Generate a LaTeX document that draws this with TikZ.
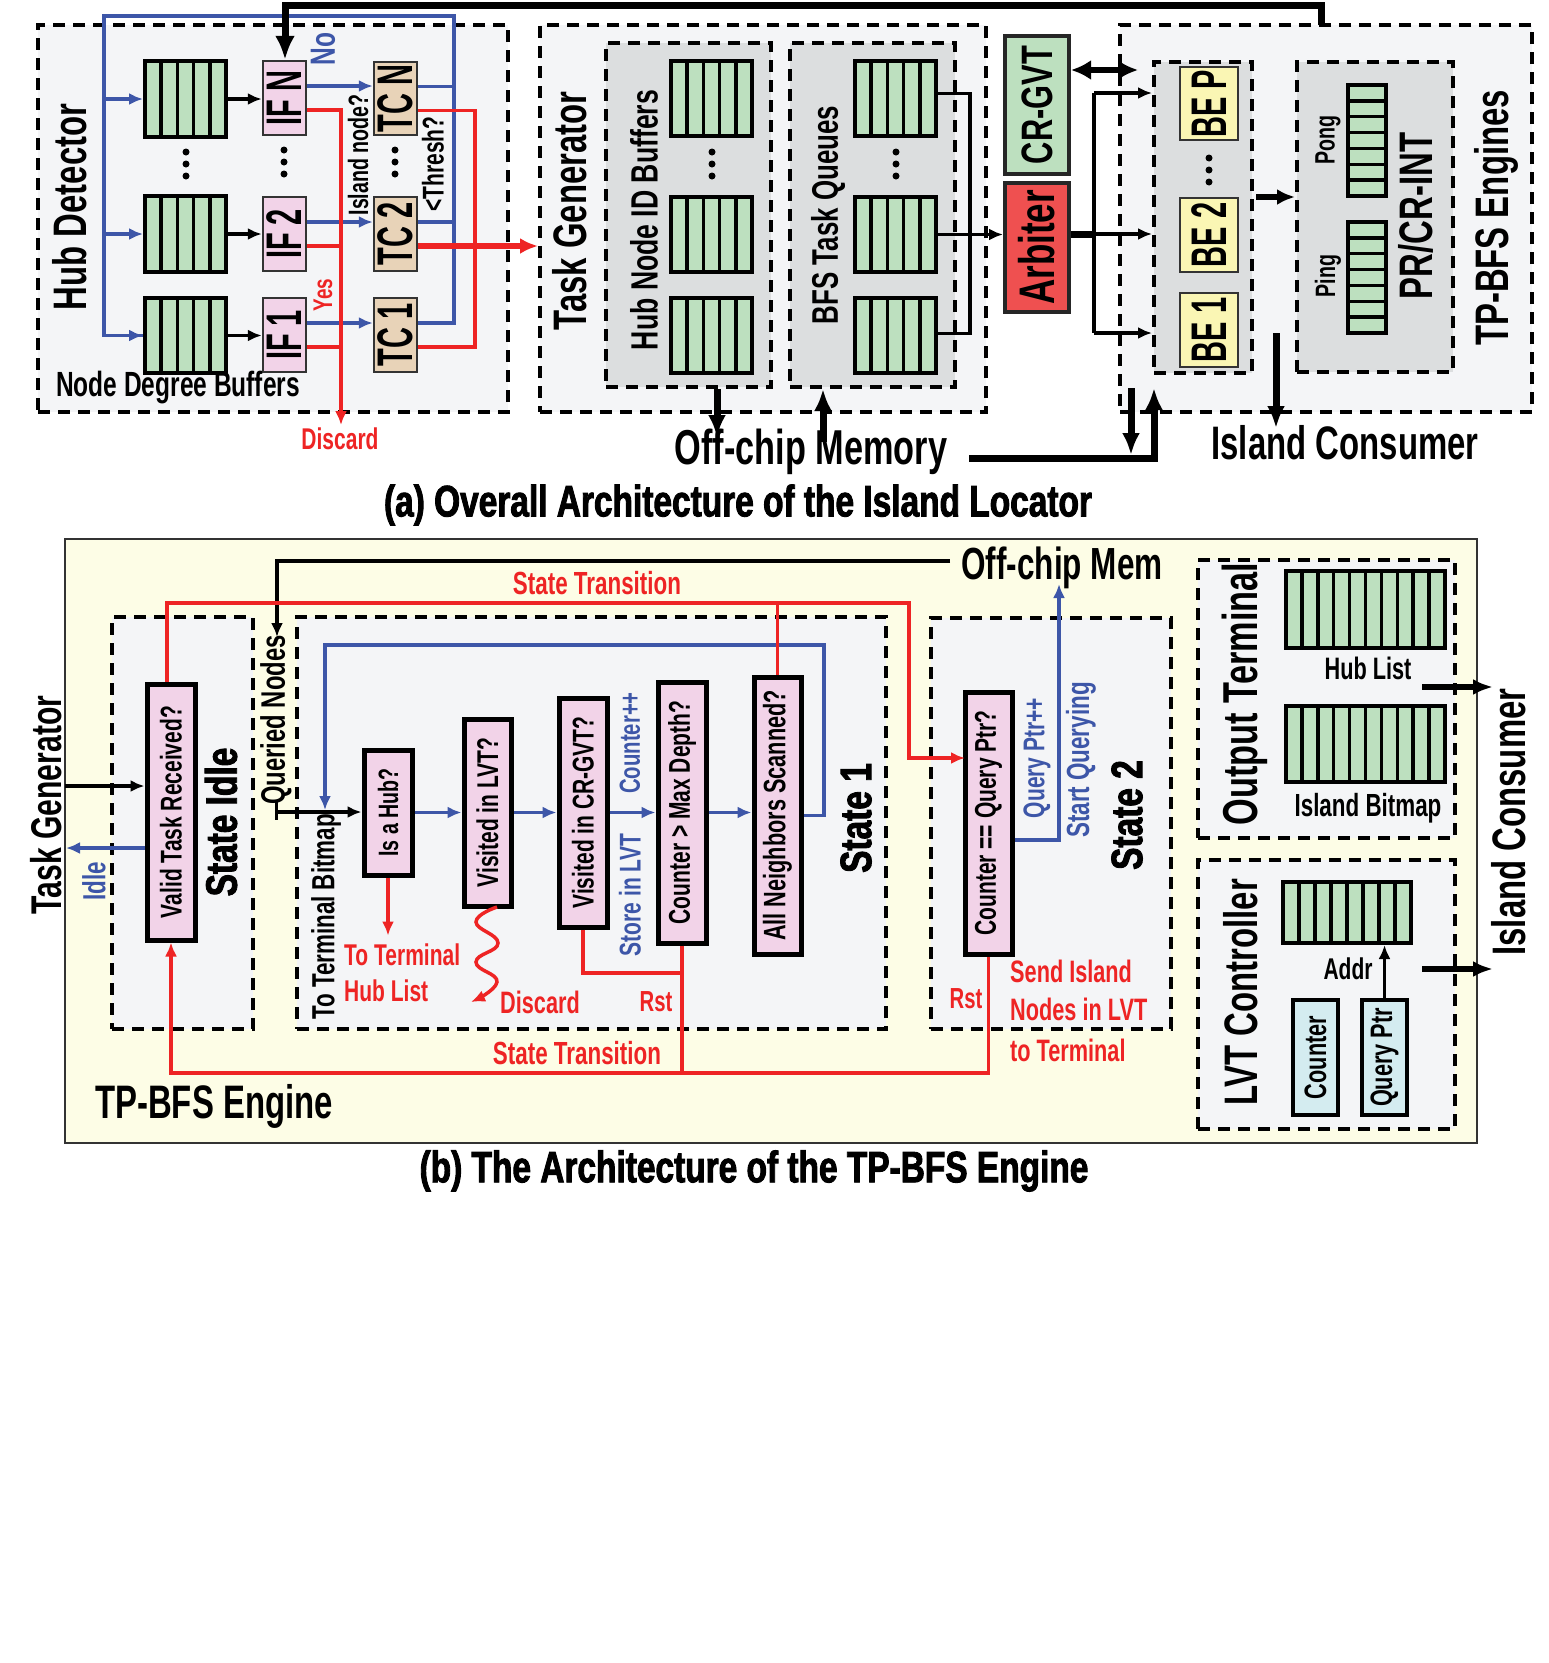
\documentclass[tikz,border=0pt]{standalone}
\usepackage{fontspec}
\newfontfamily\dinf{Liberation Sans}[FakeStretch=0.70]
\newfontfamily\dinc{Liberation Sans}[FakeStretch=0.58]
\newfontfamily\dinh{Liberation Sans}[FakeStretch=0.76,BoldFeatures={FakeBold=2}]
\usetikzlibrary{arrows.meta}
\definecolor{cgray}{HTML}{F4F5F7}
\definecolor{cgraytwo}{HTML}{DCDEDF}
\definecolor{cgreen}{HTML}{BDE0BF}
\definecolor{cpink}{HTML}{F2D3E8}
\definecolor{ctan}{HTML}{E8D3B8}
\definecolor{cyel}{HTML}{FAF6B4}
\definecolor{cred}{HTML}{EE2424}
\definecolor{cblue}{HTML}{3D56A8}
\definecolor{carb}{HTML}{EF5050}
\definecolor{cbg}{HTML}{FDFDE6}
\definecolor{ccyan}{HTML}{D4ECF0}
\newcommand\fz[1]{\fontsize{#1pt}{#1pt}\selectfont}
\newcommand\bx[6]{\node[#6,inner sep=0pt,minimum width={#4-#2},minimum height={#5-#3}] (#1) at ({(#2+#4)/2},{(#3+#5)/2}) {};}
\newcommand\vbuf[6]{\bx{#1}{#2}{#3}{#4}{#5}{buf}\pgfmathtruncatemacro\bufn{#6-1}\foreach \k in {1,...,\bufn}{\draw[bufdiv] ({#2+(#4-#2)*\k/#6},#3) -- ({#2+(#4-#2)*\k/#6},#5);}}
\newcommand\hbuf[6]{\bx{#1}{#2}{#3}{#4}{#5}{buf}\pgfmathtruncatemacro\bufn{#6-1}\foreach \k in {1,...,\bufn}{\draw[bufdiv] (#2,{#3+(#5-#3)*\k/#6}) -- (#4,{#3+(#5-#3)*\k/#6});}}
\newcommand\vd[2]{\foreach \dd in {-12,0,12}{\fill (#1,{#2+\dd}) circle (3.5pt);}}
\begin{document}
\begin{tikzpicture}[x=1pt,y=-1pt,
  lab/.style={font=\dinf\bfseries\fz{#1},inner sep=0pt},
  rlab/.style={lab=#1,rotate=90},
  hlab/.style={font=\dinh\bfseries\fz{#1},inner sep=0pt},
  rhlab/.style={hlab=#1,rotate=90},
  clab/.style={font=\dinc\bfseries\fz{#1},inner sep=0pt,rotate=90},
  dbox/.style={draw=black,line width=4pt,dash pattern=on 12pt off 8pt,fill=cgray},
  dboxg/.style={dbox,fill=cgraytwo},
  buf/.style={draw=black,line width=4pt,fill=cgreen},
  bufdiv/.style={line width=3.5pt},
  pbox/.style={draw=black!80,line width=2.5pt,fill=cpink},
  tbox/.style={draw=black!80,line width=2.5pt,fill=ctan},
  ybox/.style={draw=black!80,line width=2.5pt,fill=cyel},
  qbox/.style={draw=black,line width=5pt,fill=cpink},
  bl/.style={draw=cblue,line width=3.5pt},
  rd/.style={draw=cred,line width=3.5pt},
  bk/.style={draw=black,line width=3.5pt},
  bkt/.style={draw=black,line width=7pt},
  ts/.style={-{Latex[length=14pt,width=12pt]}},
  tl/.style={-{Latex[length=22pt,width=18pt]}}]
\fill[white] (0,0) rectangle (1549,1663);
\useasboundingbox (0,0) rectangle (1549,1663);

% ================= (a) =================
% Hub detector
\bx{hd}{38}{25}{508}{412}{dbox}
\node[rlab=47] (hdl) at (70,207) {Hub Detector};
\vbuf{hbn}{145}{61}{226}{137}{5}
\vbuf{hbb}{145}{196}{226}{272}{5}
\vbuf{hba}{145}{298}{226}{373}{5}
\vd{186}{164}
\bx{ifn}{263}{61}{306}{135}{pbox}
\bx{ifb}{263}{197}{306}{271}{pbox}
\bx{ifa}{263}{298}{306}{372}{pbox}
\vd{284}{162}
\bx{tcn}{374}{62}{417}{135}{tbox}
\bx{tcb}{374}{197}{417}{271}{tbox}
\bx{tca}{374}{298}{417}{372}{tbox}
\vd{395}{162}
\coordinate (lt) at (104,16);
\coordinate (rt) at (454,16);
\coordinate (dv) at (341,425);
\coordinate (rv) at (475,110);
% black buffer -> IF
\draw[bk,ts] (hbn.east) -- (hbn.east -| ifn.west);
\draw[bk,ts] (hbb.east) -- (hbb.east -| ifb.west);
\draw[bk,ts] (hba.east) -- (hba.east -| ifa.west);
% blue
\draw[bl] ([yshift=12pt]tca.east) -| (rt) -| (lt) |- (hba.west);
\draw[bl,ts] (lt) |- (hba.west);
\draw[bl,ts] (hbn.west -| lt) -- (hbn.west);
\draw[bl,ts] (hbb.west -| lt) -- (hbb.west);
\draw[bl] ([yshift=12pt]tcn.east) -- ([yshift=12pt]tcn.east -| rt);
\draw[bl] ([yshift=12pt]tcb.east) -- ([yshift=12pt]tcb.east -| rt);
\draw[bl,ts] ([yshift=12pt]ifn.east) -- ([yshift=12pt]ifn.east -| tcn.west);
\draw[bl,ts] ([yshift=12pt]ifb.east) -- ([yshift=12pt]ifb.east -| tcb.west);
\draw[bl,ts] ([yshift=12pt]ifa.east) -- ([yshift=12pt]ifa.east -| tca.west);
% red
\draw[rd,ts] ([yshift=-12pt]ifn.east) -| (dv);
\draw[rd] ([yshift=-12pt]ifb.east) -- ([yshift=-12pt]ifb.east -| dv);
\draw[rd] ([yshift=-12pt]ifa.east) -- ([yshift=-12pt]ifa.east -| dv);
\draw[rd] ([yshift=-12pt]tcn.east) -| ([yshift=-12pt]tca.east -| rv) -- ([yshift=-12pt]tca.east);
% labels
\node[clab=50] at (ifn) {IF N};
\node[clab=50] at (ifb) {IF 2};
\node[clab=50] at (ifa) {IF 1};
\node[clab=50] at (tcn) {TC N};
\node[clab=50] at (tcb) {TC 2};
\node[clab=50] at (tca) {TC 1};
\node[rlab=35,text=cblue] at (323,49) {No};
\node[rlab=28] at (358,155) {Island node?};
\node[rlab=30] at (433,164) {<Thresh?};
\node[rlab=27,text=cred] at (323,295) {Yes};
\node[lab=30,text=cred] at (340,439) {Discard};
\node[lab=35,anchor=west] at (56,388) {Node Degree Buffers};

% Task generator
\bx{tg}{540}{25}{986}{412}{dbox}
\bx{hn}{606}{43}{771}{387}{dboxg}
\bx{bq}{790}{43}{955}{387}{dboxg}
\node[rlab=47] at (570,211) {Task Generator};
\node[rlab=38] at (644,220) {Hub Node ID Buffers};
\node[rlab=37] at (828,215) {BFS Task Queues};
\vbuf{hnc}{671}{61}{752}{136}{5}
\vbuf{hnb}{671}{197}{752}{272}{5}
\vbuf{hna}{671}{298}{752}{373}{5}
\vd{712}{164}
\vbuf{bqc}{855}{61}{936}{136}{5}
\vbuf{bqb}{855}{197}{936}{272}{5}
\vbuf{bqa}{855}{298}{936}{373}{5}
\vd{896}{164}
% thick red from TC 2
\draw[rd,line width=6pt,-{Latex[length=18pt,width=16pt]}] ([yshift=-12pt]tcb.east) -- ([yshift=-12pt]tcb.east -| tg.west);

% Arbiter and CR-GVT
\bx{crg}{1005}{36}{1069}{174}{draw=black!85,line width=4pt,fill=cgreen}
\bx{arb}{1005}{183}{1069}{312}{draw=black!85,line width=4pt,fill=carb}
\node[rlab=44] at (crg) {CR-GVT};
\node[rlab=50] at (arb) {Arbiter};
\coordinate (bv) at (970,234);
\draw[bk] ([yshift=5pt]bqc.east) -| (bv) |- ([yshift=2pt]bqa.east);
\draw[bk,ts] (bqb.east) -- (bqb.east -| arb.west);

% TP-BFS engines
\bx{tpb}{1120}{25}{1532}{412}{dbox}
\bx{beb}{1154}{62}{1252}{373}{dboxg}
\bx{prb}{1297}{62}{1453}{372}{dboxg}
\bx{bep}{1180}{67}{1238}{140}{ybox}
\bx{bez}{1180}{198}{1238}{272}{ybox}
\bx{bea}{1180}{293}{1238}{367}{ybox}
\vd{1209}{170}
\node[clab=50] at (bep) {BE P};
\node[clab=50] at (bez) {BE 2};
\node[clab=50] at (bea) {BE 1};
\hbuf{pong}{1348}{85}{1386}{196}{7}
\hbuf{ping}{1348}{222}{1386}{333}{7}
\node[rlab=28] at (1328,140) {Pong};
\node[rlab=28] at (1328,276) {Ping};
\node[rlab=47] at (1416,216) {PR/CR-INT};
\node[rlab=47] at (1496,218) {TP-BFS Engines};
% arbiter -> BEs
\coordinate (av) at (1094,234);
\coordinate (aa) at (1094,93);
\coordinate (ac) at (1094,333);
\draw[bkt] (arb.east |- av) -- (av);
\draw[bk] (aa) -- (ac);
\draw[bk,ts] (aa) -- (aa -| beb.west);
\draw[bk,ts] (av) -- (av -| beb.west);
\draw[bk,ts] (ac) -- (ac -| beb.west);
\coordinate (da) at (1138,70);
\draw[line width=6pt,{Latex[length=20pt,width=20pt]}-{Latex[length=20pt,width=20pt]}] (crg.east |- da) -- (da);
\coordinate (bp) at (1256,197);
\draw[line width=6pt,-{Latex[length=18pt,width=16pt]}] (bp) -- (bp -| prb.west);
% top black feedback
\coordinate (tpc) at (1321,25);
\coordinate (tk) at (285,5);
\draw[bkt,line join=miter,-{Latex[length=24pt,width=20pt]}] (tpc) |- (tk) -- (tk |- ifn.north);
% off-chip memory & island consumer
\node[lab=49] (ocm) at (811,452) {Off-chip Memory};
\node[lab=47] (icn) at (1345,443) {Island Consumer};
\coordinate (ha) at (717,437);
\draw[line width=7pt,tl] (hn.south -| ha) -- (ha);
\coordinate (ua) at (823,442);
\draw[line width=7pt,tl] (ua) -- (ua |- bq.south);
\coordinate (oa) at (969,458);
\coordinate (ob) at (1154,458);
\draw[bkt,tl,line join=miter] (oa) -- (ob) -- (1154,388);
\coordinate (od) at (1131,455);
\draw[line width=7pt,tl] (1131,388) -- (od);
\coordinate (ic) at (1276,428);
\draw[line width=7pt,tl] (1276,333) -- (ic);
\node[hlab=44] at (738,505) {(a) Overall Architecture of the Island Locator};

% ================= (b) =================
\bx{pb}{65}{539}{1477}{1143}{draw=black!80,line width=2pt,fill=cbg}
\bx{si}{112}{617}{253}{1029}{dbox}
\bx{sa}{297}{617}{886}{1029}{dbox}
\bx{sb}{931}{618}{1171}{1029}{dbox}
\bx{ot}{1198}{560}{1455}{838}{dbox}
\bx{lc}{1198}{860}{1455}{1129}{dbox}

\node[rlab=43] at (46,805) {Task Generator};
\node[rlab=47] at (1509,822) {Island Consumer};
\node[lab=47,anchor=west] at (95,1106) {TP-BFS Engine};
\node[hlab=44] at (754,1171) {(b) The Architecture of the TP-BFS Engine};

% boxes
\bx{vt}{147}{684}{195}{940}{qbox}
\bx{ih}{364}{750}{412}{875}{qbox}
\bx{lv}{464}{719}{511}{906}{qbox}
\bx{cg}{559}{698}{607}{927}{qbox}
\bx{cn}{658}{682}{706}{943}{qbox}
\bx{an}{754}{677}{801}{954}{qbox}
\bx{cq}{965}{692}{1012}{954}{qbox}
\node[rlab=30] at (vt) {Valid Task Received?};
\node[rlab=28] at (ih) {Is a Hub?};
\node[rlab=30] at (lv) {Visited in LVT?};
\node[rlab=30] at (cg) {Visited in CR-GVT?};
\node[rlab=30] at (cn) {Counter > Max Depth?};
\node[rlab=31] at (an) {All Neighbors Scanned?};
\node[rlab=30] at (cq) {Counter == Query Ptr?};
\node[rhlab=44] at (221,822) {State Idle};
\node[rhlab=44] at (856,818) {State 1};
\node[rhlab=44] at (1127,815) {State 2};
\node[rlab=34] at (276,720) {Queried Nodes};
\node[rlab=32] at (326,917) {To Terminal Bitmap};

% task generator / idle
\coordinate (tgc) at (65,786);
\draw[bk,ts] (tgc) -- (tgc -| vt.west);
\coordinate (idc) at (66,848);
\draw[bl,ts] (idc -| vt.west) -- (idc);
\node[rlab=32,text=cblue] at (94,881) {Idle};

% off-chip mem
\node[lab=45] (ocb) at (1062,568) {Off-chip Mem};
\coordinate (om) at (950,561);
\coordinate (qd) at (277,637);
\draw[bk,ts] (om) -| (qd);
\coordinate (qn) at (276,812);
\draw[bk,ts] (qn) -- (qn -| ih.west);
\draw[bk,line width=3pt] (276,802) -- (276,820);

% blue chain
\coordinate (bla) at (824,645);
\coordinate (blb) at (325,810);
\draw[bl,ts] (an.east) -| (bla) -| (blb);
\draw[bl,ts] (ih.east) -- (ih.east -| lv.west);
\draw[bl,ts] (lv.east) -- (lv.east -| cg.west);
\draw[bl,ts] (cg.east) -- (cg.east -| cn.west);
\draw[bl,ts] (cn.east) -- (cn.east -| an.west);
\node[rlab=29,text=cblue] at (630,743) {Counter++};
\node[rlab=30,text=cblue] at (630,895) {Store in LVT};

% red
\draw[rd,ts] (ih.south) -- ++(0,58);
\node[lab=30,text=cred,anchor=west] at (344,955) {To Terminal};
\node[lab=30,text=cred,anchor=west] at (344,991) {Hub List};
\draw[rd,-{Latex[length=14pt,width=12pt]}] plot[smooth,tension=0.8] coordinates {(497,907) (476,922) (498,943) (476,962) (497,982) (471,1002)};
\node[lab=31,text=cred,anchor=west] at (500,1002) {Discard};
\coordinate (rj) at (682,973);
\draw[rd] (cg.south) |- (rj);
\coordinate (rb) at (682,1073);
\draw[rd] (cn.south) -- (rb);
\draw[rd,ts] (cq.south) |- (vt.south |- rb) -- (vt.south);
\node[lab=29,text=cred] at (656,1002) {Rst};
\node[lab=32,text=cred] at (577,1053) {State Transition};
\coordinate (rtp) at (909,603);
\coordinate (rq) at (965,758);
\draw[rd,ts] ([xshift=-4pt]vt.north) |- (rtp) |- (rq);
\draw[rd] (an.north) -- (an.north |- rtp);
\node[lab=32,text=cred] at (597,583) {State Transition};

% state 2 outputs
\coordinate (qb) at (1059,584);
\draw[bl,ts] ([yshift=-17pt]cq.east) -| (qb);
\node[rlab=30,text=cblue] at (1037,758) {Query Ptr++};
\node[rlab=32,text=cblue] at (1081,760) {Start Querying};
\node[lab=29,text=cred] at (966,999) {Rst};
\node[lab=31,text=cred,anchor=west] at (1010,971) {Send Island};
\node[lab=31,text=cred,anchor=west] at (1010,1009) {Nodes in LVT};
\node[lab=31,text=cred,anchor=west] at (1010,1050) {to Terminal};

% output terminal
\node[rlab=49] at (1245,694) {Output Terminal};
\vbuf{hl}{1286}{571}{1445}{648}{10}
\node[lab=31] at (1368,668) {Hub List};
\vbuf{ib}{1286}{706}{1445}{782}{10}
\node[lab=32] at (1368,808) {Island Bitmap};
\coordinate (oo) at (1493,687);
\draw[line width=6pt,-{Latex[length=20pt,width=16pt]}] (1422,687) -- (oo);

% LVT controller
\node[rlab=47] at (1241,992) {LVT Controller};
\vbuf{lb}{1283}{882}{1411}{943}{8}
\node[lab=30] at (1348,969) {Addr};
\bx{ctr}{1293}{1000}{1338}{1115}{draw=black,line width=4pt,fill=ccyan}
\bx{qp}{1362}{1000}{1407}{1115}{draw=black,line width=4pt,fill=ccyan}
\node[rlab=31] at (ctr) {Counter};
\node[rlab=31] at (qp) {Query Ptr};
\draw[bk,ts] (qp.north) -- (qp.north |- lb.south);
\coordinate (lo) at (1493,969);
\draw[line width=6pt,-{Latex[length=20pt,width=16pt]}] (1422,969) -- (lo);
\end{tikzpicture}
\end{document}
